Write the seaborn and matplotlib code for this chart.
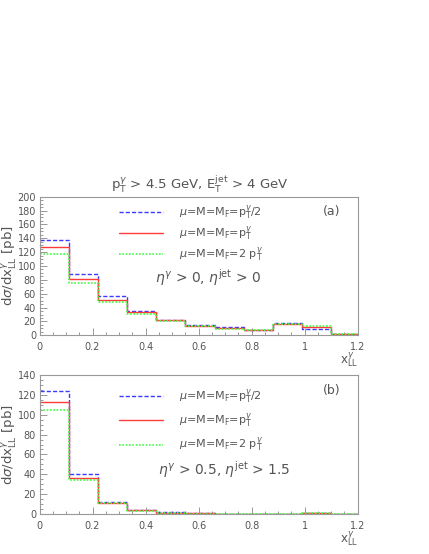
import numpy as np
import pandas as pd
import matplotlib
matplotlib.use("Agg")
import matplotlib.pyplot as plt
import seaborn as sns
from matplotlib.ticker import MultipleLocator, FuncFormatter
from matplotlib.lines import Line2D

sns.set_style("white")
plt.rcParams['font.family'] = ['DejaVu Sans']

edges = [0.0, 0.11, 0.22, 0.33, 0.44, 0.55, 0.66, 0.77, 0.88, 0.99, 1.10, 1.21]
centers = [0.055, 0.165, 0.275, 0.385, 0.495, 0.605, 0.715, 0.825, 0.935, 1.045, 1.155]

a_half = [137, 88, 57, 35.5, 22, 15.3, 11.5, 7.2, 17.7, 9, 1.5]
a_one = [127, 81, 51, 33, 22, 14, 10, 7.2, 17, 12.5, 1.5]
a_two = [117, 76, 48, 31, 21, 13, 9.5, 7, 16, 14, 1.5]

b_half = [124, 40, 12.5, 4.5, 1.8, 0.8, 0.3, 0.3, 0.3, 0.8, 0.2]
b_one = [113, 36, 11.5, 4, 1.5, 0.6, 0.3, 0.3, 0.3, 0.9, 0.2]
b_two = [105, 34, 11, 3.5, 1.3, 0.5, 0.3, 0.3, 0.3, 0.8, 0.2]

labels = [r'$\mu$=M=M$_{\rm F}$=p$_{\rm T}^{\gamma}$/2',
          r'$\mu$=M=M$_{\rm F}$=p$_{\rm T}^{\gamma}$',
          r'$\mu$=M=M$_{\rm F}$=2 p$_{\rm T}^{\gamma}$']
colors = ['#3b3bff', '#ff3b3b', '#40ff40']
styles = [(0, (3, 1.5)), '-', (0, (1, 1))]
widths = [1.0, 1.0, 1.2]

fig = plt.figure(figsize=(4.29, 5.54), dpi=100)
W, H = 429, 554
def axpos(l, t, r, b):
    return [l / W, 1 - b / H, (r - l) / W, (b - t) / H]

axa = fig.add_axes(axpos(39.5, 196.7, 357.7, 335.3))
axb = fig.add_axes(axpos(39.5, 375, 357.7, 514))

gray = '#555555'

def make(ax, series, ymax, panel, cut, anchor, spacing, cutpos):
    for vals, c, ls, lw in zip(series, colors, styles, widths):
        df = pd.DataFrame({'x': centers, 'w': vals})
        sns.histplot(data=df, x='x', weights='w', bins=edges, element='step',
                     fill=False, ax=ax, color=c, linestyle=ls, linewidth=lw)
    ax.set_xlim(0, 1.2)
    ax.set_ylim(0, ymax)
    ax.xaxis.set_major_locator(MultipleLocator(0.2))
    ax.xaxis.set_minor_locator(MultipleLocator(0.05))
    ax.yaxis.set_major_locator(MultipleLocator(20))
    ax.yaxis.set_minor_locator(MultipleLocator(5))
    ax.tick_params(axis='both', which='both', direction='in', colors='#888888',
                   labelcolor=gray, labelsize=7, bottom=True, left=True,
                   top=False, right=False)
    ax.tick_params(which='major', length=5, width=0.6)
    ax.tick_params(which='minor', length=2.5, width=0.6)
    ax.tick_params(axis='x', pad=5)
    ax.tick_params(axis='y', pad=2.5)
    ax.xaxis.set_major_formatter(FuncFormatter(lambda v, p: '%g' % round(v, 2)))
    for s in ax.spines.values():
        s.set_color('#999999')
        s.set_linewidth(0.8)
    ax.set_xlabel('')
    ax.set_ylabel('')
    ax.text(1.0, -0.108, r'x$^{\gamma}_{\rm LL}$', transform=ax.transAxes,
            ha='right', va='top', fontsize=8.5, color=gray)
    ax.text(-0.094, 0.5, r'd$\sigma$/dx$^{\gamma}_{\rm LL}$ [pb]',
            transform=ax.transAxes, rotation=90, ha='center', va='center',
            fontsize=9.5, color=gray)
    ax.text(0.945, 0.89, panel, transform=ax.transAxes, ha='right',
            va='center', fontsize=9, color=gray)
    ax.text(cutpos[0], cutpos[1], cut, transform=ax.transAxes, ha='center',
            va='center', fontsize=10, color=gray)
    hs = [Line2D([], [], color=c, linestyle=ls, linewidth=lw)
          for c, ls, lw in zip(colors, styles, widths)]
    leg = ax.legend(hs, labels, loc='upper left', bbox_to_anchor=anchor,
                    frameon=False, fontsize=8, handlelength=4.0,
                    handletextpad=1.4, labelspacing=spacing,
                    borderaxespad=0, borderpad=0)
    for t in leg.get_texts():
        t.set_color(gray)

make(axa, [a_half, a_one, a_two], 200, '(a)',
     r'$\eta^{\gamma}$ > 0, $\eta^{\rm jet}$ > 0', (0.25, 0.95), 0.25,
     (0.53, 0.42))
make(axb, [b_half, b_one, b_two], 140, '(b)',
     r'$\eta^{\gamma}$ > 0.5, $\eta^{\rm jet}$ > 1.5', (0.25, 0.91), 0.55,
     (0.58, 0.32))

fig.text(200 / W, 1 - 184 / H,
         r'p$_{\rm T}^{\gamma}$ > 4.5 GeV, E$_{\rm T}^{\rm jet}$ > 4 GeV',
         ha='center', va='center', fontsize=9.5, color=gray)

fig.savefig('out.png', dpi=100)
